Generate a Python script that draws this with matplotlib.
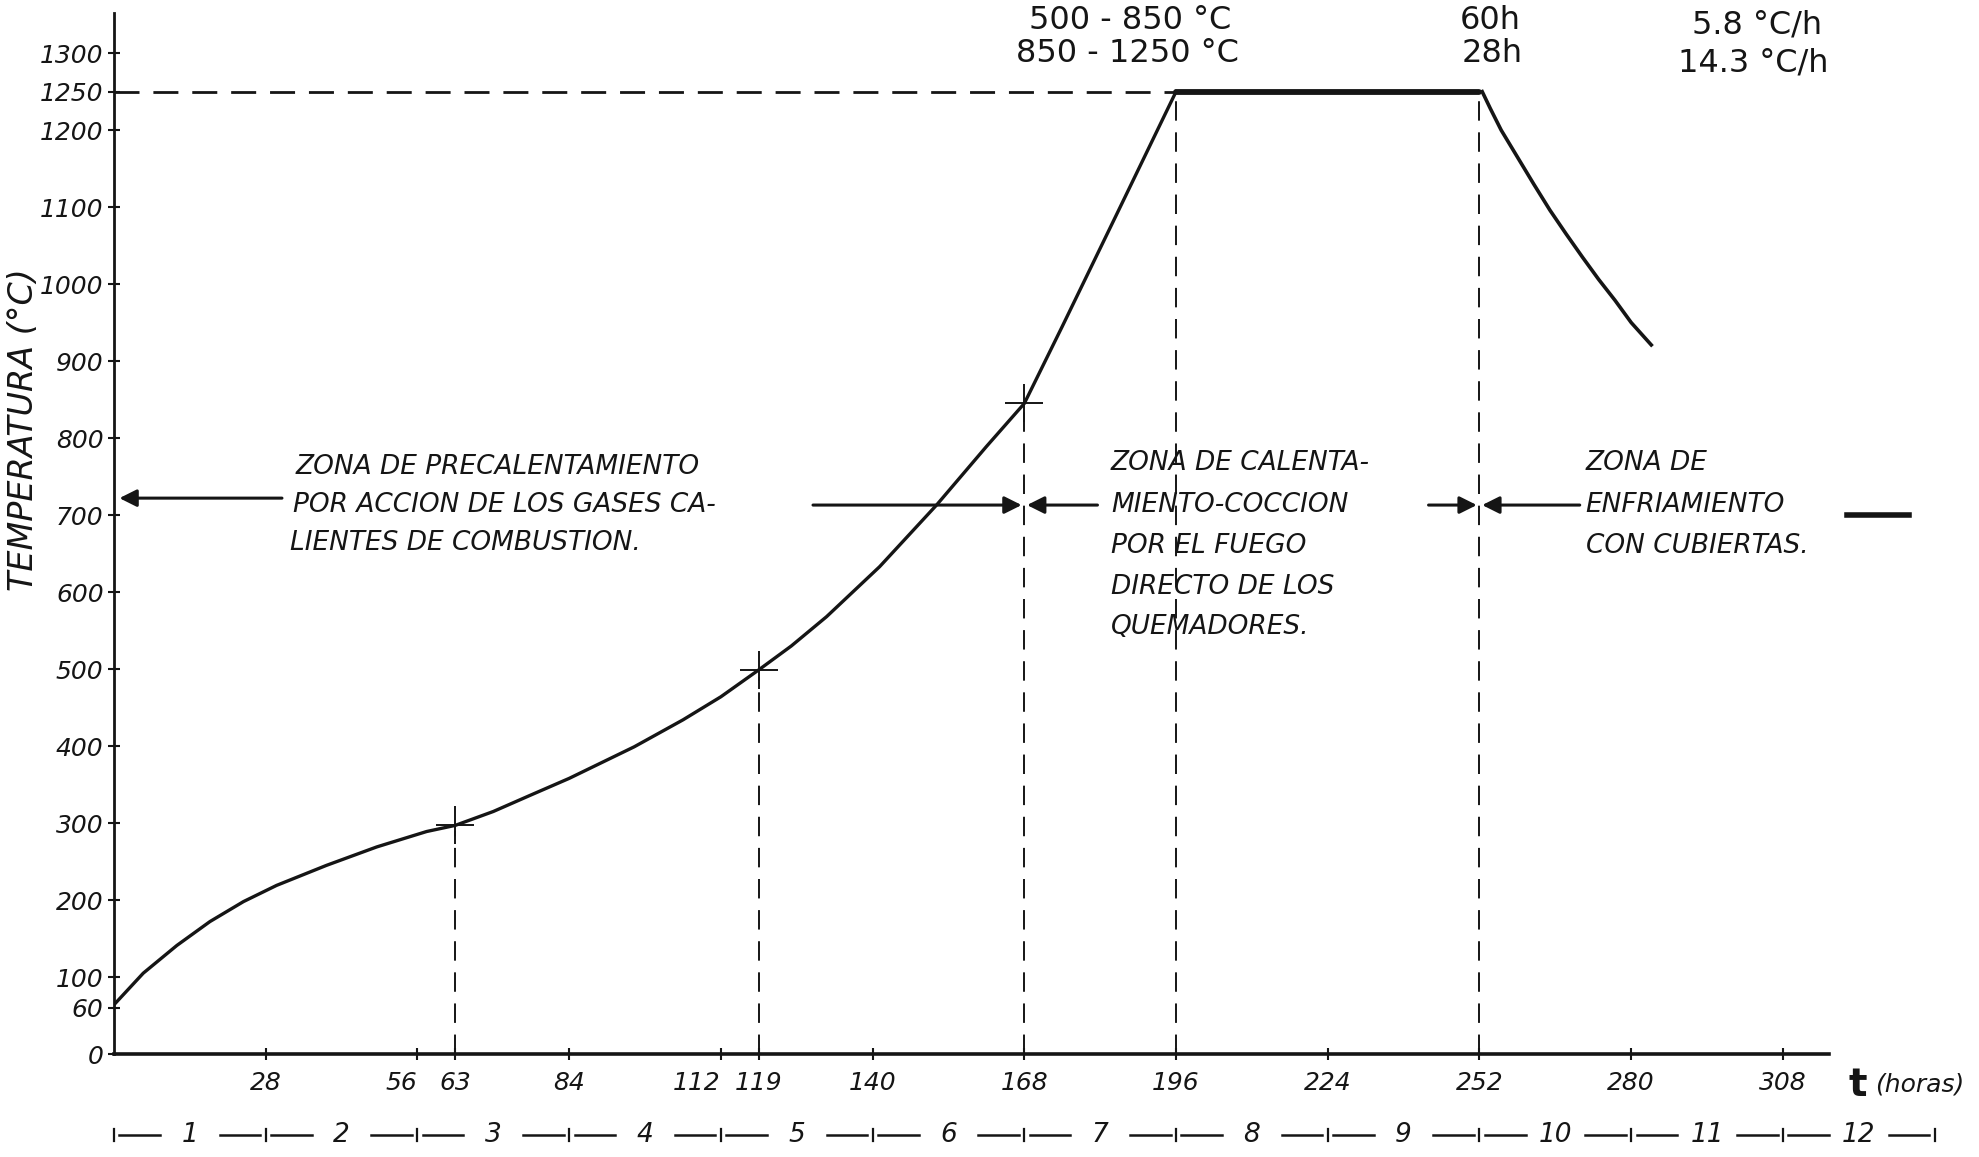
import matplotlib.pyplot as plt

plt.rcParams['font.family'] = 'DejaVu Sans'
plt.rcParams['font.style'] = 'italic'

ink = "#151515"

# firing curve (hours, deg C)
heat_t = [0, 5.4, 11.6, 17.7, 23.9, 30, 39.2, 48.5, 57.7, 63, 70, 76.8, 84, 96, 105,
          112, 119, 125, 131.5, 141.3, 151.8, 161, 168, 175, 185, 196]
heat_T = [64, 105, 141, 172, 198, 219, 245, 269, 289, 297, 315, 336, 358, 399, 434,
          464, 499, 530, 568, 633, 713, 789, 845, 945, 1090, 1250]
plat_t = [196, 252]
plat_T = [1250, 1250]
cool_t = [252.5, 254, 256, 259, 262, 265, 268, 271, 274, 277, 280, 283.7]
cool_T = [1250, 1228, 1200, 1165, 1130, 1096, 1065, 1035, 1006, 979, 950, 921]

mark_t = [63, 119, 168]
mark_T = [297, 499, 845]
guide_t = [63, 119, 168, 196, 252]
guide_T = [290, 490, 838, 1250, 1250]

xticks = [28, 56, 63, 84, 112, 119, 140, 168, 196, 224, 252, 280, 308]
yticks = [0, 60, 100, 200, 300, 400, 500, 600, 700, 800, 900, 1000, 1100, 1200, 1250, 1300]
days = list(range(1, 13))

fig = plt.figure(figsize=(19.79, 11.57), dpi=100)
ax = fig.add_axes([0.0576, 0.089, 0.8666, 0.8997])
ax.set_xlim(0, 316.5)
ax.set_ylim(0, 1352)

for s in ["top", "right"]:
    ax.spines[s].set_visible(False)
ax.spines["left"].set_linewidth(2.0)
ax.spines["bottom"].set_linewidth(2.6)
ax.spines["left"].set_color(ink)
ax.spines["bottom"].set_color(ink)

ax.set_xticks(xticks)
ax.set_xticklabels([str(v) for v in xticks], fontsize=18)
for lbl in ax.get_xticklabels():
    if lbl.get_text() in ("56", "112"):
        lbl.set_ha("right")
ax.set_yticks(yticks)
ax.set_yticklabels([str(v) for v in yticks], fontsize=18)
ax.tick_params(axis="both", direction="inout", length=9, width=1.5, color=ink, labelcolor=ink)
ax.tick_params(axis="x", pad=8)
ax.tick_params(axis="y", pad=3)

# dashed guides
ax.plot([0, 196], [1250, 1250], color=ink, lw=2.0, dashes=(9, 5))
for t, T in zip(guide_t, guide_T):
    ax.plot([t, t], [0, T], color=ink, lw=1.4, dashes=(10, 6))

# curve
ax.plot(heat_t, heat_T, color=ink, lw=2.4)
ax.plot(plat_t, plat_T, color=ink, lw=4.2, solid_capstyle="round")
ax.plot(cool_t, cool_T, color=ink, lw=2.6)
ax.plot(mark_t, mark_T, linestyle="none", marker="+", markersize=28, mew=1.4, color=ink)

# zone texts
zone1 = [("ZONA DE PRECALENTAMIENTO", 33.6, 762),
         ("POR ACCION DE LOS GASES CA-", 33.0, 713),
         ("LIENTES DE COMBUSTION.", 32.5, 664)]
zone2 = [("ZONA DE CALENTA-", 184, 768),
         ("MIENTO-COCCION", 184, 713),
         ("POR EL FUEGO", 184, 660),
         ("DIRECTO DE LOS", 184, 606),
         ("QUEMADORES.", 184, 555)]
zone3 = [("ZONA DE", 271.6, 768),
         ("ENFRIAMIENTO", 271.6, 713),
         ("CON CUBIERTAS.", 271.6, 660)]
for txt, x, y in zone1 + zone2 + zone3:
    ax.text(x, y, txt, fontsize=19, ha="left", va="center", color=ink, clip_on=False)

def arrow(x0, x1, y, style):
    ax.annotate("", xy=(x1, y), xytext=(x0, y), annotation_clip=False,
                arrowprops=dict(arrowstyle=style, lw=2.2, color=ink,
                                mutation_scale=26, shrinkA=0, shrinkB=0))

arrow(31.0, 1.0, 722, "-|>")
arrow(129, 167.5, 713, "-|>")
arrow(181.5, 168.5, 713, "-|>")
arrow(242.6, 251.5, 713, "-|>")
arrow(270.5, 252.5, 713, "-|>")
ax.plot([319.8, 331.2], [700, 700], color=ink, lw=4, clip_on=False)

# top notes
notes = [("500 - 850 °C", 187.5, 1343), ("850 - 1250 °C", 187.0, 1300),
         ("60h", 254, 1343), ("28h", 254.4, 1300),
         ("5.8 °C/h", 303.3, 1336), ("14.3 °C/h", 302.6, 1287)]
for txt, x, y in notes:
    ax.text(x, y, txt, fontsize=23, style="normal", ha="center", va="center",
            color=ink, clip_on=False)

# axis titles
fig.text(24 / 1979, 1 - 430 / 1157, "TEMPERATURA (°C)", rotation=90, fontsize=24,
         ha="center", va="center", color=ink)
ax.text(321.8, -40, "t", fontsize=28, weight="bold", style="normal",
        ha="center", va="center", color=ink, clip_on=False)
ax.text(325, -40, "(horas)", fontsize=18, ha="left", va="center", color=ink, clip_on=False)

# day scale below the axis
yrow = -105
for k in range(len(days) + 1):
    ax.plot([28 * k, 28 * k], [yrow - 8, yrow + 8], color=ink, lw=1.6, clip_on=False)
for k, d in enumerate(days):
    ax.plot([28 * k + 1, 28 * k + 8.5], [yrow, yrow], color=ink, lw=1.8, clip_on=False)
    ax.plot([28 * k + 19.5, 28 * k + 27], [yrow, yrow], color=ink, lw=1.8, clip_on=False)
    ax.text(28 * k + 14, yrow, str(d), fontsize=19, ha="center", va="center",
            color=ink, clip_on=False)

fig.savefig("out.png", dpi=100, facecolor="white")
